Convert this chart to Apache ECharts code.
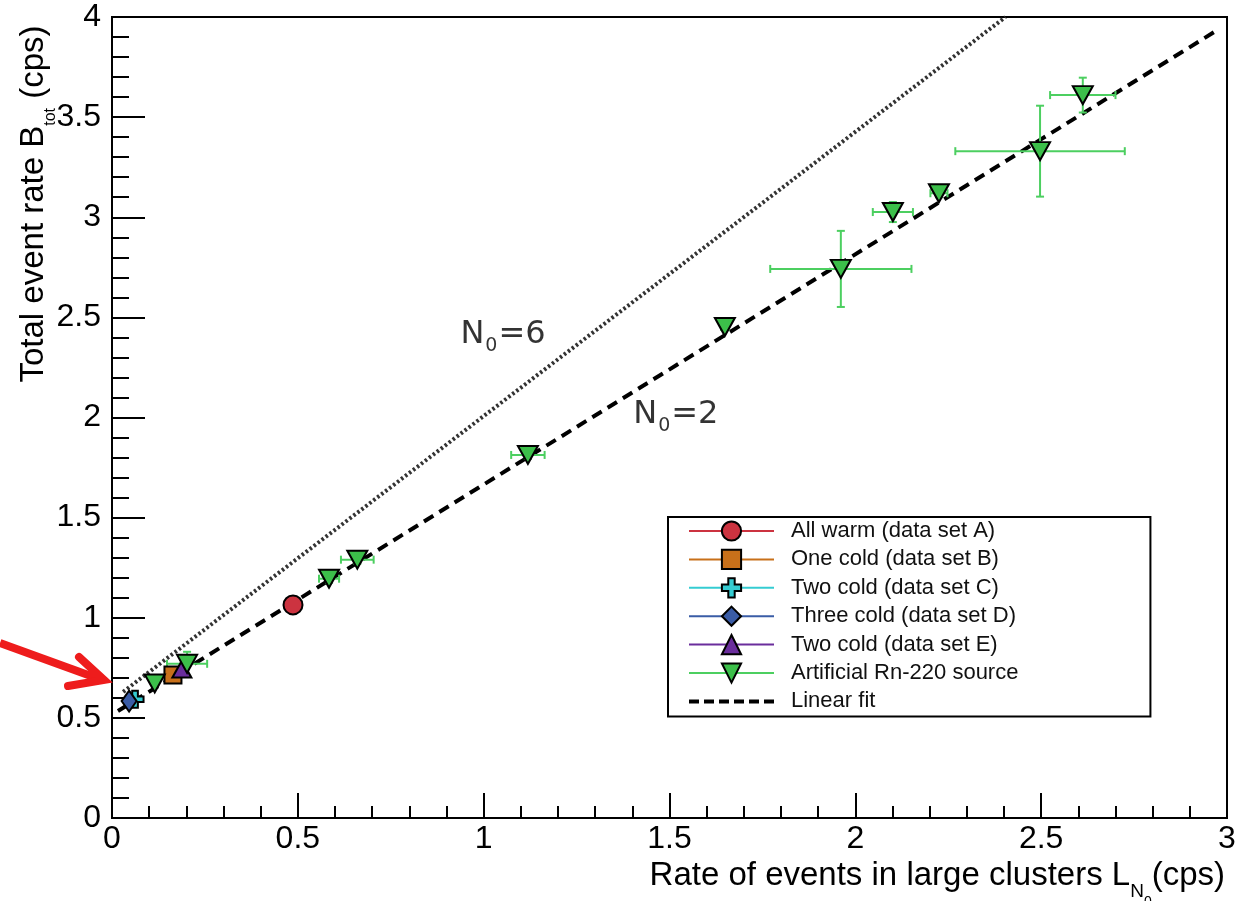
<!DOCTYPE html>
<html>
<head>
<meta charset="utf-8">
<title>Total event rate vs rate of events in large clusters</title>
<script src="https://cdn.jsdelivr.net/npm/echarts@6/dist/echarts.min.js"></script>
<style>
    html, body { margin: 0; background: #fff; }
    #main { width: 1245px; height: 901px; }
</style>
</head>
<body>
<div id="main"></div>
<script>
// data: [L_N0 (cps), B_tot (cps)]
var warmA = [[0.487, 1.064]];
var coldB = [[0.164, 0.714]];
var coldC = [[0.062, 0.593]];
var coldD = [[0.046, 0.584]];
var coldE = [[0.188, 0.744]];

// artificial Rn-220 source, with errors
var rnX    = [0.115, 0.202, 0.584, 0.660, 1.119, 1.649, 1.961, 2.101, 2.225, 2.497, 2.612];
var rnY    = [0.672, 0.770, 1.195, 1.290, 1.813, 2.452, 2.742, 3.026, 3.120, 3.330, 3.610];
var rnXErr = [0.000, 0.054, 0.027, 0.044, 0.045, 0.010, 0.190, 0.054, 0.023, 0.228, 0.088];
var rnYErr = [0.000, 0.060, 0.020, 0.020, 0.020, 0.010, 0.190, 0.050, 0.020, 0.227, 0.087];

// lines: linear fit (N0=2) and N0=6 expectation, end points
var fitLine = [[0.016, 0.534], [2.970, 3.930]];
var n6Line  = [[0.030, 0.630], [2.404, 4.000]];

// text labels in data coordinates
var labelPos = [[1.052, 2.412, '6'], [1.517, 2.012, '2']];

var chart = echarts.init(document.getElementById('main'));

var rnData = rnX.map(function (x, i) { return [x, rnY[i]]; });
var errData = rnX.map(function (x, i) { return [x, rnY[i], rnXErr[i], rnYErr[i]]; });

var errColor = '#4ccf60';
function renderErr(params, api) {
    var x = api.value(0), y = api.value(1), ex = api.value(2), ey = api.value(3);
    var cap = 4;
    var st = { stroke: errColor, lineWidth: 2 };
    var kids = [];
    if (ex > 0) {
        var a = api.coord([x - ex, y]), b = api.coord([x + ex, y]);
        kids.push({ type: 'line', shape: { x1: a[0], y1: a[1], x2: b[0], y2: b[1] }, style: st });
        kids.push({ type: 'line', shape: { x1: a[0], y1: a[1] - cap, x2: a[0], y2: a[1] + cap }, style: st });
        kids.push({ type: 'line', shape: { x1: b[0], y1: b[1] - cap, x2: b[0], y2: b[1] + cap }, style: st });
    }
    if (ey > 0) {
        var c = api.coord([x, y - ey]), d = api.coord([x, y + ey]);
        kids.push({ type: 'line', shape: { x1: c[0], y1: c[1], x2: d[0], y2: d[1] }, style: st });
        kids.push({ type: 'line', shape: { x1: c[0] - cap, y1: c[1], x2: c[0] + cap, y2: c[1] }, style: st });
        kids.push({ type: 'line', shape: { x1: d[0] - cap, y1: d[1], x2: d[0] + cap, y2: d[1] }, style: st });
    }
    return { type: 'group', children: kids };
}

function markerSeries(name, data, symbol, size, color, z, rotate) {
    return {
        name: name,
        type: 'line',
        data: data,
        symbol: symbol,
        symbolSize: size,
        symbolRotate: rotate || 0,
        showAllSymbol: true,
        lineStyle: { opacity: 0 },
        itemStyle: { color: color, borderColor: '#000', borderWidth: 2 },
        emphasis: { disabled: true },
        z: z
    };
}

var crossPath = 'path://M1,0h1v1h1v1h-1v1h-1v-1h-1v-1h1z';
var dashIcon = 'path://M0,0h10v4h-10z M15,0h10v4h-10z M30,0h10v4h-10z M45,0h10v4h-10z M60,0h10v4h-10z M75,0h10v4h-10z';

var axisFont = 'Liberation Sans';

chart.setOption({
    backgroundColor: '#fff',
    animation: false,
    grid: {
        left: 112, right: 18, top: 17, bottom: 83,
        show: true, borderColor: '#000', borderWidth: 2
    },
    xAxis: {
        type: 'value', min: 0, max: 3, interval: 0.5,
        axisLine: { onZero: false, lineStyle: { color: '#000', width: 2 } },
        axisTick: { inside: true, length: 25, lineStyle: { color: '#000', width: 2 } },
        minorTick: { show: true, splitNumber: 5, length: 12, lineStyle: { color: '#000', width: 2 } },
        splitLine: { show: false },
        axisLabel: { color: '#000', fontFamily: axisFont, fontSize: 32, margin: 5 }
    },
    yAxis: {
        type: 'value', min: 0, max: 4, interval: 0.5,
        axisLine: { onZero: false, lineStyle: { color: '#000', width: 2 } },
        axisTick: { inside: true, length: 33, lineStyle: { color: '#000', width: 2 } },
        minorTick: { show: true, splitNumber: 5, length: 17, lineStyle: { color: '#000', width: 2 } },
        splitLine: { show: false },
        axisLabel: { color: '#000', fontFamily: axisFont, fontSize: 32, margin: 11 }
    },
    legend: {
        orient: 'vertical',
        left: 668, top: 517,
        padding: [3, 132, 4, 20],
        itemWidth: 85, itemHeight: 24, itemGap: 6.4,
        borderColor: '#000', borderWidth: 2,
        backgroundColor: '#fff',
        selectedMode: false,
        textStyle: { fontFamily: axisFont, fontSize: 22, color: '#111', padding: [0, 0, 0, 12] },
        data: [
            { name: 'All warm (data set A)', lineStyle: { color: '#cc3340', width: 2, opacity: 1 } },
            { name: 'One cold (data set B)', lineStyle: { color: '#c8701a', width: 2, opacity: 1 } },
            { name: 'Two cold (data set C)', lineStyle: { color: '#35ccd2', width: 2, opacity: 1 } },
            { name: 'Three cold (data set D)', lineStyle: { color: '#3a5ca6', width: 2, opacity: 1 } },
            { name: 'Two cold (data set E)', lineStyle: { color: '#6a2d9c', width: 2, opacity: 1 } },
            { name: 'Artificial Rn-220 source', lineStyle: { color: errColor, width: 2, opacity: 1 } },
            { name: 'Linear fit', icon: dashIcon }
        ]
    },
    series: [
        {
            name: 'N0=6',
            type: 'line',
            data: n6Line,
            symbol: 'none',
            lineStyle: { color: '#333', width: 4, type: [2.5, 2.5] },
            emphasis: { disabled: true },
            z: 1
        },
        {
            name: 'Linear fit',
            type: 'line',
            data: fitLine,
            symbol: 'none',
            color: '#000',
            lineStyle: { color: '#000', width: 4, type: [11, 7] },
            emphasis: { disabled: true },
            z: 2
        },
        {
            name: 'errors',
            type: 'custom',
            data: errData,
            renderItem: renderErr,
            encode: { x: 0, y: 1 },
            silent: true,
            z: 3
        },
        markerSeries('All warm (data set A)', warmA, 'circle', 19, '#cc3340', 4),
        markerSeries('One cold (data set B)', coldB, 'rect', 17, '#c8701a', 5),
        markerSeries('Two cold (data set C)', coldC, crossPath, 17, '#35ccd2', 6),
        markerSeries('Three cold (data set D)', coldD, 'diamond', [15, 21], '#3a5ca6', 7),
        markerSeries('Two cold (data set E)', coldE, 'triangle', [19, 17], '#6a2d9c', 8),
        markerSeries('Artificial Rn-220 source', rnData, 'triangle', [20, 18], '#3cbf4a', 9, 180),
        {
            name: 'labels',
            type: 'scatter',
            data: labelPos,
            symbolSize: 0,
            silent: true,
            label: {
                show: true,
                position: 'inside',
                color: '#000',
                formatter: function (p) { return '{n|N}{s|0}{n|=' + p.value[2] + '}'; },
                rich: {
                    n: { fontFamily: 'DejaVu Sans', fontSize: 32, color: '#000', lineHeight: 44 },
                    s: { fontFamily: 'DejaVu Sans', fontSize: 19, color: '#000', lineHeight: 19, padding: [22, 1, 0, 1] }
                }
            },
            z: 10
        }
    ],
    graphic: [
        {
            type: 'text',
            x: 34, y: 204,
            rotation: Math.PI / 2,
            style: {
                x: 0, y: 0,
                text: '{m|Total event rate B}{s|tot}{m| (cps)}',
                align: 'center', verticalAlign: 'middle',
                rich: {
                    m: { fontFamily: axisFont, fontSize: 33, fill: '#000', lineHeight: 54 },
                    s: { fontFamily: axisFont, fontSize: 16, fill: '#000', lineHeight: 16, padding: [34, 0, 0, 0] }
                }
            }
        },
        {
            type: 'text',
            x: 1225, y: 876,
            style: {
                x: 0, y: 0,
                text: '{m|Rate of events in large clusters L}{s|N}{t|0}{m|(cps)}',
                align: 'right', verticalAlign: 'middle',
                rich: {
                    m: { fontFamily: axisFont, fontSize: 33, fill: '#000', lineHeight: 60 },
                    s: { fontFamily: axisFont, fontSize: 19, fill: '#000', lineHeight: 19, padding: [32, 0, 0, 0] },
                    t: { fontFamily: axisFont, fontSize: 14, fill: '#000', lineHeight: 14, padding: [52, 0, 0, 0] }
                }
            }
        },
        {
            type: 'polyline',
            shape: { points: [[0, 643], [102, 680]] },
            style: { stroke: '#ee1c1c', lineWidth: 8, fill: null },
            z: 20
        },
        {
            type: 'polyline',
            shape: { points: [[79, 657], [104, 680], [68, 686]] },
            style: { stroke: '#ee1c1c', lineWidth: 8, fill: null, lineJoin: 'miter', lineCap: 'round' },
            z: 20
        }
    ]
});
</script>
</body>
</html>
